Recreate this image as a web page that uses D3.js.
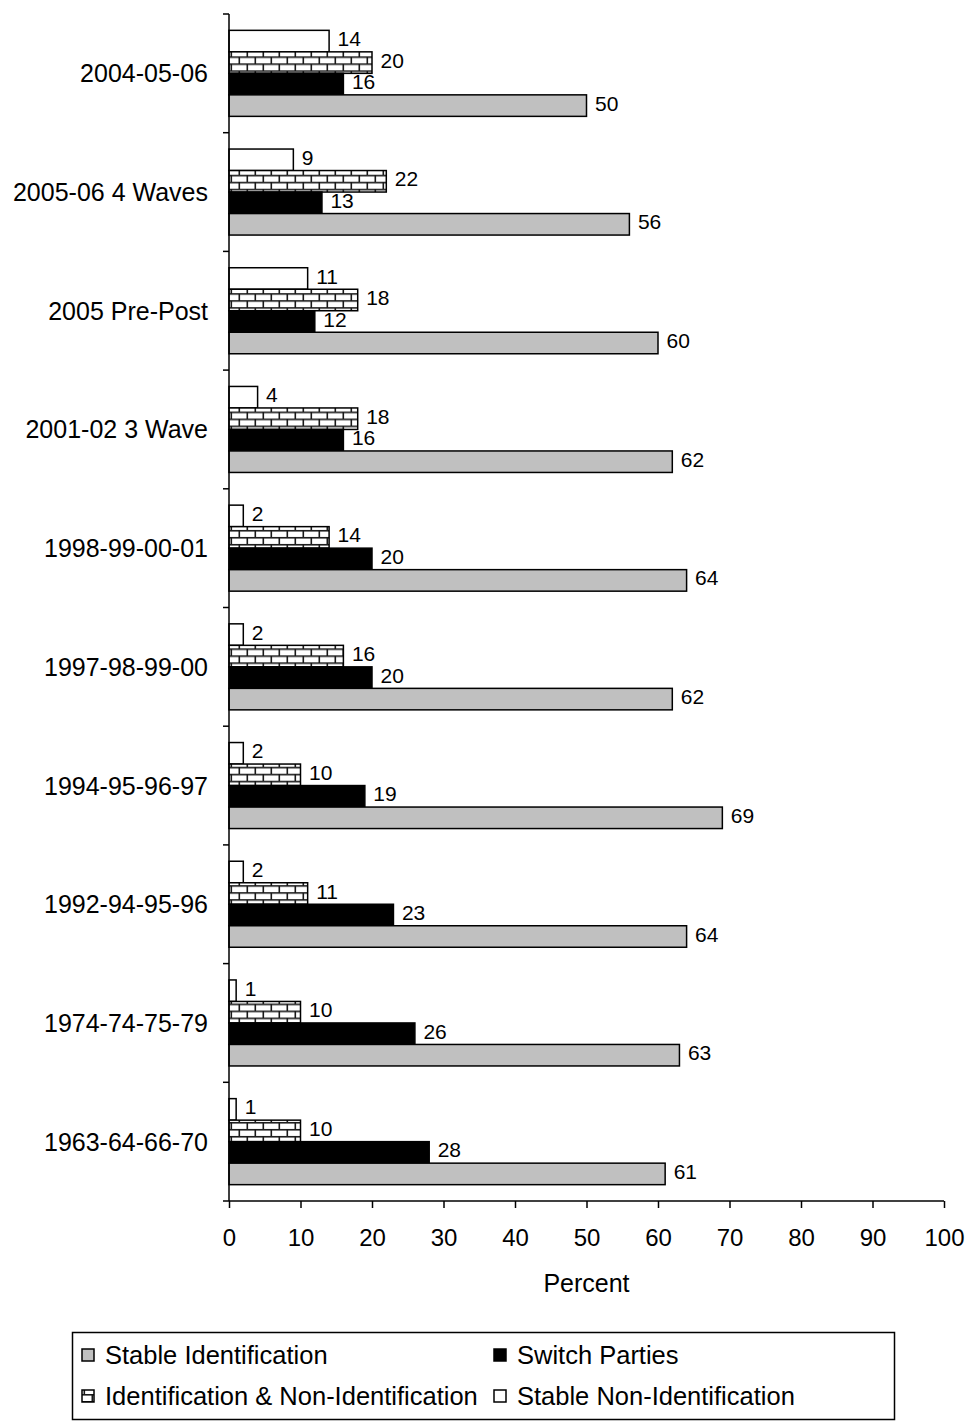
<!DOCTYPE html>
<html>
<head>
<meta charset="utf-8">
<script src="https://cdn.jsdelivr.net/npm/d3@7"></script>
<style>
  body { margin: 0; background: #fff; }
  text { font-family: "Liberation Sans", Arial, sans-serif; fill: #000; }
</style>
</head>
<body>
<svg id="chart" width="972" height="1422"></svg>
<script>
// Panel studies, newest at the top
const categories = [
  "2004-05-06", "2005-06 4 Waves", "2005 Pre-Post", "2001-02 3 Wave",
  "1998-99-00-01", "1997-98-99-00", "1994-95-96-97", "1992-94-95-96",
  "1974-74-75-79", "1963-64-66-70"
];
const stableIdentification    = [50, 56, 60, 62, 64, 62, 69, 64, 63, 61];
const switchParties           = [16, 13, 12, 16, 20, 20, 19, 23, 26, 28];
const identificationMixed     = [20, 22, 18, 18, 14, 16, 10, 11, 10, 10];
const stableNonIdentification = [14,  9, 11,  4,  2,  2,  2,  2,  1,  1];
const xTicks = [0, 10, 20, 30, 40, 50, 60, 70, 80, 90, 100];
const axisTitle = "Percent";

// series in the order they stack inside each group (top to bottom)
const series = [
  { key: "nonid",  name: "Stable Non-Identification",          values: stableNonIdentification, fill: "#ffffff" },
  { key: "mixed",  name: "Identification & Non-Identification", values: identificationMixed,     fill: "brick" },
  { key: "switch", name: "Switch Parties",                      values: switchParties,           fill: "#000000" },
  { key: "stable", name: "Stable Identification",               values: stableIdentification,    fill: "#c0c0c0" }
];
// legend reads row by row
const legendOrder = ["stable", "switch", "mixed", "nonid"];

const svg = d3.select("#chart");
const defs = svg.append("defs");

const x = d3.scaleLinear().domain([0, 100]).range([229, 944]);
const y = d3.scaleBand().domain(categories).range([14, 1201]).padding(0);
const yInner = d3.scaleBand().domain(series.map(s => s.key))
  .range([0, y.bandwidth()]).paddingInner(0).paddingOuter(0.76);

// brick pattern tile, anchored at a given origin
function brickPattern(id, ox, oy) {
  const p = defs.append("pattern")
    .attr("id", id)
    .attr("patternUnits", "userSpaceOnUse")
    .attr("x", ox).attr("y", oy)
    .attr("width", 16).attr("height", 14);
  p.append("rect").attr("width", 16).attr("height", 14).attr("fill", "#fff");
  const m = "#1a1a1a";
  p.append("rect").attr("x", 0).attr("y", 4).attr("width", 16).attr("height", 1.6).attr("fill", m);
  p.append("rect").attr("x", 0).attr("y", 11).attr("width", 16).attr("height", 1.6).attr("fill", m);
  p.append("rect").attr("x", 9.5).attr("y", 4).attr("width", 1.6).attr("height", 7).attr("fill", m);
  p.append("rect").attr("x", 1.5).attr("y", 11).attr("width", 1.6).attr("height", 3).attr("fill", m);
  p.append("rect").attr("x", 1.5).attr("y", 0).attr("width", 1.6).attr("height", 4).attr("fill", m);
}

// bars
const groups = svg.append("g").selectAll("g")
  .data(categories)
  .join("g")
  .attr("transform", d => `translate(0,${y(d)})`);

groups.each(function(cat, i) {
  const g = d3.select(this);
  series.forEach(s => {
    const by = y(cat) + yInner(s.key);
    let fill = s.fill;
    if (fill === "brick") {
      const id = "brick-" + i;
      brickPattern(id, x(0), by + 0.5);
      fill = `url(#${id})`;
    }
    const v = s.values[i];
    g.append("rect")
      .attr("x", x(0))
      .attr("y", yInner(s.key))
      .attr("width", x(v) - x(0))
      .attr("height", yInner.bandwidth())
      .attr("fill", fill)
      .attr("stroke", "#000")
      .attr("stroke-width", 1.5);
    g.append("text")
      .attr("x", x(v) + 8.5)
      .attr("y", yInner(s.key) + yInner.bandwidth() / 2 - 2.5)
      .attr("dy", "0.36em")
      .attr("font-size", 21)
      .text(v);
  });
});

// y axis: boundary ticks between groups
const yAxisG = svg.append("g");
yAxisG.append("line")
  .attr("x1", x(0)).attr("x2", x(0))
  .attr("y1", y.range()[0]).attr("y2", y.range()[1])
  .attr("stroke", "#000").attr("stroke-width", 1.5);
const boundaries = categories.map(c => y(c)).concat([y.range()[1]]);
yAxisG.selectAll("line.tick").data(boundaries).join("line")
  .attr("class", "tick")
  .attr("x1", x(0) - 6).attr("x2", x(0))
  .attr("y1", d => d).attr("y2", d => d)
  .attr("stroke", "#000").attr("stroke-width", 1.5);
yAxisG.selectAll("text").data(categories).join("text")
  .attr("x", x(0) - 21)
  .attr("y", d => y(d) + y.bandwidth() / 2)
  .attr("dy", "0.36em")
  .attr("text-anchor", "end")
  .attr("font-size", 25)
  .text(d => d);

// x axis
const xAxis = d3.axisBottom(x).tickValues(xTicks).tickSize(7).tickPadding(21);
const xAxisG = svg.append("g")
  .attr("transform", `translate(0,${y.range()[1]})`)
  .call(xAxis);
xAxisG.select(".domain").attr("stroke", "#000").attr("stroke-width", 1.5)
  .attr("d", `M${x(0)},0H${x(100)}`);
xAxisG.selectAll(".tick line").attr("stroke", "#000").attr("stroke-width", 1.5);
xAxisG.selectAll(".tick text")
  .attr("font-size", 24)
  .attr("font-family", "Liberation Sans, Arial, sans-serif")
  .attr("fill", "#000");

svg.append("text")
  .attr("x", (x(0) + x(100)) / 2)
  .attr("y", 1292)
  .attr("text-anchor", "middle")
  .attr("font-size", 25)
  .text(axisTitle);

// legend
const legend = svg.append("g");
legend.append("rect")
  .attr("x", 72.5).attr("y", 1332.5)
  .attr("width", 822).attr("height", 87)
  .attr("fill", "#fff").attr("stroke", "#000").attr("stroke-width", 1.5);

const legendCols = [82, 494];
const legendRows = [1355, 1396];
brickPattern("brick-legend", 82, 1390);
legendOrder.forEach((k, j) => {
  const s = series.find(d => d.key === k);
  const lx = legendCols[j % 2];
  const ly = legendRows[Math.floor(j / 2)];
  legend.append("rect")
    .attr("x", lx).attr("y", ly - 6)
    .attr("width", 12).attr("height", 12)
    .attr("fill", s.fill === "brick" ? "url(#brick-legend)" : s.fill)
    .attr("stroke", "#000").attr("stroke-width", 1.5);
  legend.append("text")
    .attr("x", lx + 23)
    .attr("y", ly)
    .attr("dy", "0.36em")
    .attr("font-size", 25.5)
    .text(s.name);
});
</script>
</body>
</html>
